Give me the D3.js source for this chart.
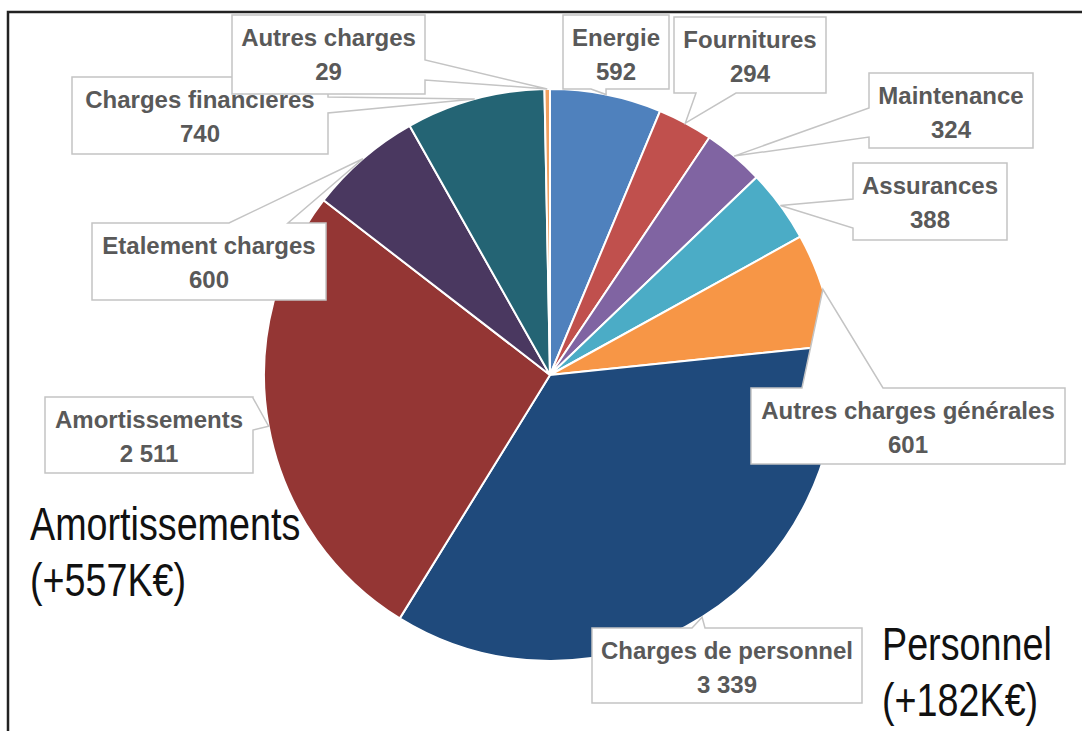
<!DOCTYPE html>
<html>
<head>
<meta charset="utf-8">
<script src="https://cdn.jsdelivr.net/npm/d3@7"></script>
<style>
  body { margin: 0; background: #fff; }
  svg { display: block; }
</style>
</head>
<body>
<svg id="chart" width="1082" height="731"></svg>
<script>
// Slices, clockwise from 12 o'clock
var categories = ["Energie", "Fournitures", "Maintenance", "Assurances", "Autres charges générales",
                  "Charges de personnel", "Amortissements", "Etalement charges", "Charges financières", "Autres charges"];
var values = [592, 294, 324, 388, 601, 3339, 2511, 600, 740, 29];
var sliceColors = ["#4f81bd", "#c0504d", "#8064a2", "#4bacc6", "#f79646",
                   "#1f4a7c", "#943634", "#4a3860", "#246474", "#f0a060"];

// Big side notes
var notes = [["Amortissements", "(+557K€)"], ["Personnel", "(+182K€)"]];

// Callout boxes (layout only): x, y, w, h, side of the wedge, wedge base offsets along that side
var boxLayout = [
    [563, 15, 106, 74, "bottom", 28, 43],
    [674, 17, 152, 76, "bottom", 22, 62],
    [869, 73, 164, 75, "left", 35, 64],
    [853, 163, 154, 77, "left", 36, 65],
    [751, 388, 314, 76, "top", 51, 132],
    [592, 628, 270, 75, "top", 100, 113],
    [45, 397, 208, 76, "right", 1, 33],
    [92, 223, 234, 77, "top", 137, 196],
    [72, 77, 256, 77, "right", 20, 36],
    [232, 15, 193, 79, "right", 45, 65]
];
var noteLayout = [[30, 540], [882, 660]];

var svg = d3.select("#chart");
var cx = 550, cy = 375, radius = 286;

// frame (right and bottom edges run off the picture)
svg.append("rect")
    .attr("x", 8).attr("y", 12)
    .attr("width", 1120).attr("height", 800)
    .style("fill", "none").style("stroke", "#222").style("stroke-width", 2.5);

var pie = d3.pie().sort(null).value(function(d) { return d; });
var arcs = pie(values);
var arc = d3.arc().innerRadius(0).outerRadius(radius);
var rim = d3.arc().innerRadius(radius).outerRadius(radius);

var g = svg.append("g").attr("transform", "translate(" + cx + "," + cy + ")");
g.selectAll("path.slice")
    .data(arcs)
    .enter().append("path")
    .attr("class", "slice")
    .attr("d", arc)
    .style("fill", function(d, i) { return sliceColors[i]; })
    .style("stroke", "#fff")
    .style("stroke-width", 2);

var fmt = function(v) { return d3.format(",")(v).replace(/,/g, " "); };

// callout shape: rectangle with a wedge pointing to the slice
function calloutPath(b, tip) {
    var x = b[0], y = b[1], w = b[2], h = b[3], side = b[4], a = b[5], e = b[6];
    var p = d3.path();
    p.moveTo(x, y);
    if (side == "top") { p.lineTo(x + a, y); p.lineTo(tip[0], tip[1]); p.lineTo(x + e, y); }
    p.lineTo(x + w, y);
    if (side == "right") { p.lineTo(x + w, y + a); p.lineTo(tip[0], tip[1]); p.lineTo(x + w, y + e); }
    p.lineTo(x + w, y + h);
    if (side == "bottom") { p.lineTo(x + e, y + h); p.lineTo(tip[0], tip[1]); p.lineTo(x + a, y + h); }
    p.lineTo(x, y + h);
    if (side == "left") { p.lineTo(x, y + e); p.lineTo(tip[0], tip[1]); p.lineTo(x, y + a); }
    p.closePath();
    return p.toString();
}

var labels = svg.selectAll("g.callout")
    .data(arcs)
    .enter().append("g")
    .attr("class", "callout");

labels.append("path")
    .attr("d", function(d, i) {
        var c = rim.centroid(d);
        return calloutPath(boxLayout[i], [c[0] + cx, c[1] + cy]);
    })
    .style("fill", "#fff")
    .style("stroke", "#c4c4c4")
    .style("stroke-width", 1.5)
    .style("stroke-linejoin", "miter");

var txt = labels.append("text")
    .attr("text-anchor", "middle")
    .style("font-family", "'Liberation Sans', Arial, sans-serif")
    .style("font-weight", "bold")
    .style("font-size", "24px")
    .style("fill", "#595959");
txt.append("tspan")
    .attr("x", function(d, i) { return boxLayout[i][0] + boxLayout[i][2] / 2; })
    .attr("y", function(d, i) { return boxLayout[i][1] + 31; })
    .text(function(d, i) { return categories[i]; });
txt.append("tspan")
    .attr("x", function(d, i) { return boxLayout[i][0] + boxLayout[i][2] / 2; })
    .attr("y", function(d, i) { return boxLayout[i][1] + 65; })
    .text(function(d) { return fmt(d.value); });

// side notes in narrow font
var noteText = svg.selectAll("text.note")
    .data(notes)
    .enter().append("text")
    .attr("class", "note")
    .style("font-family", "'Liberation Sans Narrow', 'Arial Narrow', sans-serif")
    .style("font-size", "46px")
    .style("fill", "#111");
noteText.selectAll("tspan")
    .data(function(d, i) { return d.map(function(s) { return [s, i]; }); })
    .enter().append("tspan")
    .attr("x", function(d) { return noteLayout[d[1]][0]; })
    .attr("y", function(d, j) { return noteLayout[d[1]][1] + j * 56; })
    .text(function(d) { return d[0]; });

// if the narrow face is missing, squeeze the regular one
var probe = noteText.select("tspan").node().getComputedTextLength();
if (probe > 290) {
    noteText.each(function(d, i) {
        var x0 = noteLayout[i][0];
        d3.select(this).attr("transform", "translate(" + x0 + ",0) scale(0.82,1) translate(" + (-x0) + ",0)");
    });
}
</script>
</body>
</html>
